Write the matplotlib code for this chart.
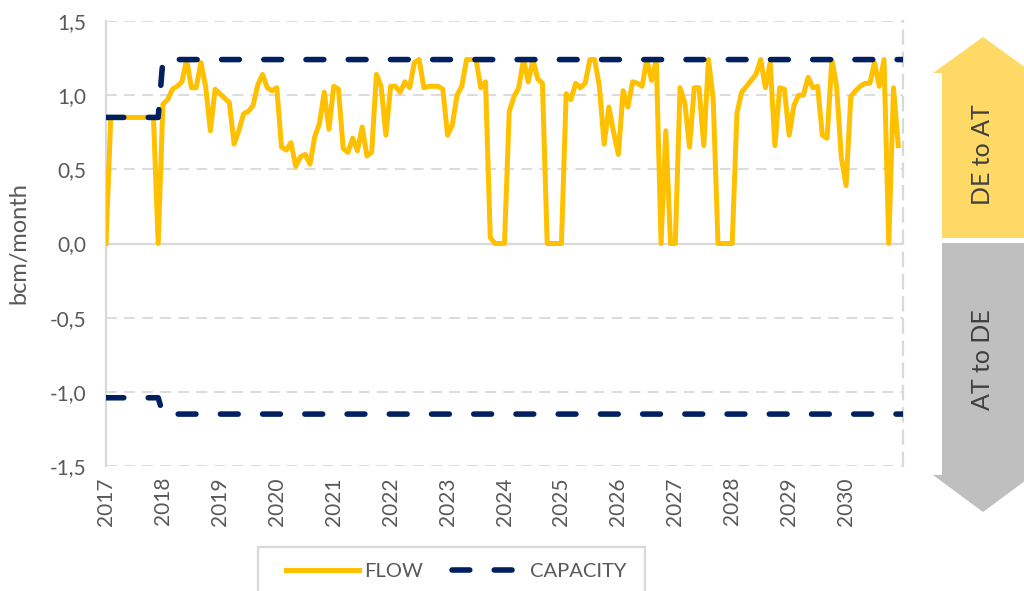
import numpy as np
import matplotlib.pyplot as plt
from matplotlib.patches import Polygon, Rectangle
from matplotlib.ticker import FuncFormatter

plt.rcParams['font.family'] = ['Lato', 'DejaVu Sans']

# monthly flow, Jan 2017 .. Dec 2030 (bcm/month)
flow = [
    0.00, 0.85, 0.85, 0.85, 0.85, 0.85, 0.85, 0.85, 0.85, 0.85, 0.85, 0.00,
    0.94, 0.97, 1.04, 1.06, 1.09, 1.24, 1.05, 1.05, 1.22, 1.06, 0.76, 1.04,
    1.01, 0.98, 0.95, 0.67, 0.76, 0.875, 0.89, 0.93, 1.07, 1.14, 1.05, 1.03,
    1.05, 0.65, 0.63, 0.68, 0.52, 0.585, 0.60, 0.535, 0.72, 0.81, 1.02, 0.77,
    1.06, 1.04, 0.64, 0.615, 0.71, 0.625, 0.785, 0.59, 0.615, 1.14, 1.06, 0.73,
    1.06, 1.06, 1.02, 1.09, 1.05, 1.22, 1.24, 1.05, 1.06, 1.06, 1.06, 1.04,
    0.73, 0.80, 1.00, 1.06, 1.24, 1.24, 1.24, 1.05, 1.09, 0.04, 0.00, 0.00,
    0.00, 0.89, 0.99, 1.05, 1.24, 1.09, 1.24, 1.11, 1.08, 0.00, 0.00, 0.00,
    0.00, 1.01, 0.97, 1.08, 1.05, 1.08, 1.24, 1.24, 1.06, 0.67, 0.92, 0.75,
    0.60, 1.03, 0.92, 1.09, 1.08, 1.06, 1.24, 1.10, 1.24, 0.00, 0.76, 0.00,
    0.00, 1.05, 0.95, 0.65, 1.05, 1.05, 0.66, 1.24, 0.97, 0.00, 0.00, 0.00,
    0.00, 0.88, 1.02, 1.06, 1.10, 1.14, 1.24, 1.05, 1.22, 0.66, 1.05, 1.04,
    0.73, 0.93, 1.00, 1.00, 1.12, 1.05, 1.06, 0.73, 0.71, 1.24, 1.06, 0.58,
    0.39, 0.99, 1.03, 1.06, 1.08, 1.08, 1.22, 1.06, 1.24, 0.00, 1.05, 0.66,
]
months = 2017 + np.arange(len(flow)) / 12

# capacity steps (start, last month before step, step month, end)
cap_x = [2017.0, 2017 + 11 / 12, 2018.0, 2031.0]
cap_up = [0.85, 0.85, 1.24, 1.24]
cap_down = [-1.04, -1.04, -1.15, -1.15]

years = list(range(2017, 2031))
yticks = [-1.5, -1.0, -0.5, 0.0, 0.5, 1.0, 1.5]

yellow = '#FFC000'
navy = '#002060'
grid_c = '#D9D9D9'
txt_c = '#595959'

fig = plt.figure(figsize=(10.24, 5.91), dpi=100)
ax = fig.add_axes([106 / 1024, 1 - 466 / 591, (903 - 106) / 1024, (466 - 21) / 591])

flow_line, = ax.plot(months, flow, color=yellow, lw=3.6, solid_joinstyle='round', zorder=3, label='FLOW')
cap_line, = ax.plot(cap_x, cap_up, color=navy, lw=4, dashes=(3.2, 4.4),
                    dash_capstyle='round', zorder=4, label='CAPACITY')
ax.plot(cap_x, cap_down, color=navy, lw=4, dashes=(3.2, 4.4), dash_capstyle='round', zorder=4)

ax.set_xlim(2017, 2031)
ax.set_ylim(-1.5, 1.5)
ax.set_xticks(years)
ax.set_xticklabels([str(y) for y in years], rotation=90)
ax.set_yticks(yticks)
ax.yaxis.set_major_formatter(FuncFormatter(lambda v, p: f'{v:.1f}'.replace('.', ',')))
ax.tick_params(axis='both', length=0, labelsize=15, labelcolor=txt_c)
ax.tick_params(axis='y', pad=14)
ax.tick_params(axis='x', pad=8)

ax.yaxis.grid(True, color=grid_c, lw=1.3, linestyle=(0, (6, 4)))
ax.axhline(0, color=grid_c, lw=1.6, zorder=1)
for s in ['top', 'bottom']:
    ax.spines[s].set_visible(False)
ax.spines['left'].set_color(grid_c)
ax.spines['left'].set_linewidth(1.6)
ax.spines['right'].set_color(grid_c)
ax.spines['right'].set_linewidth(1.6)
ax.spines['right'].set_linestyle((0, (6, 4)))

ax.set_ylabel('bcm/month', fontsize=17, color=txt_c)
ax.yaxis.set_label_coords(-0.096, 0.5)

# legend box, cut by the bottom edge
fig.patches.append(Rectangle((258 / 1024, -0.05), (645 - 258) / 1024, 0.05 + 1 - 547 / 591,
                             transform=fig.transFigure, fill=False, edgecolor=grid_c, lw=1.6))
fig.legend(handles=[flow_line, cap_line], loc='center left',
           bbox_to_anchor=(286 / 1024, 1 - 571 / 591), ncol=2, frameon=False,
           fontsize=14.5, labelcolor=txt_c, handlelength=3.6, handletextpad=0.3,
           columnspacing=1.4, borderpad=0, borderaxespad=0)

# direction arrows on the right
ov = fig.add_axes([0, 0, 1, 1], zorder=-1)
ov.set_xlim(0, 1024)
ov.set_ylim(591, 0)
ov.axis('off')
ov.add_patch(Polygon([(942, 238), (942, 73), (933, 73), (983, 37), (1033, 73), (1033, 238)],
                     closed=True, facecolor='#FFD966', edgecolor='none'))
ov.add_patch(Polygon([(942, 243), (942, 475), (933, 475), (983, 512), (1033, 475), (1033, 243)],
                     closed=True, facecolor='#BFBFBF', edgecolor='none'))
ov.text(983, 155, 'DE to AT', rotation=90, ha='center', va='center', fontsize=18, color='#404040')
ov.text(983, 360, 'AT to DE', rotation=90, ha='center', va='center', fontsize=18, color='#404040')

fig.savefig('out.png', dpi=100)
